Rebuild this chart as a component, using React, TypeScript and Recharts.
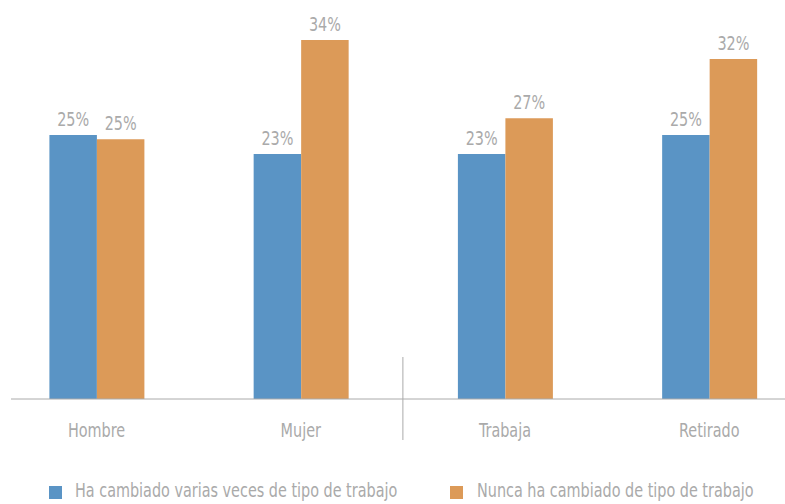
import React from 'react';
import { BarChart, Bar, XAxis, YAxis, LabelList } from 'recharts';

// Values (percent)
const categories = ['Hombre', 'Mujer', 'Trabaja', 'Retirado'];
const variasVeces = [25.0, 23.2, 23.2, 25.0];
const nunca = [24.6, 34.0, 26.6, 32.2];
const seriesNames = [
  'Ha cambiado varias veces de tipo de trabajo',
  'Nunca ha cambiado de tipo de trabajo',
];

const BLUE = '#5a94c5';
const ORANGE = '#dc9a58';
const GREY = '#aaaaaa';
const FONT = "'DejaVu Sans Condensed', 'DejaVu Sans', sans-serif";
const FONT_SIZE = 20;
const SQUEEZE = 0.8; // the reference uses a very narrow face

const data = categories.map((name, i) => ({
  name,
  varias: variasVeces[i],
  nunca: nunca[i],
}));

const PLOT_WIDTH = 817;
const HALF_BAND = PLOT_WIDTH / categories.length / 2;

const NarrowText = ({ x, y, children }: { x: number; y: number; children: React.ReactNode }) => (
  <g transform={`translate(${x},${y}) scale(${SQUEEZE},1)`}>
    <text x={0} y={0} textAnchor="middle" fill={GREY} fontSize={FONT_SIZE} fontFamily={FONT}>
      {children}
    </text>
  </g>
);

// Category label, plus the thin divider between the two groups
const CategoryTick = (props: any) => {
  const { x, y, payload, index } = props;
  return (
    <g>
      <NarrowText x={x} y={y + 38}>{payload.value}</NarrowText>
      {index === 2 && (
        <line x1={x - HALF_BAND} x2={x - HALF_BAND} y1={y - 42} y2={y + 41} stroke={GREY} strokeWidth={1} />
      )}
    </g>
  );
};

const ValueLabel = (props: any) => {
  const { x, y, width, value } = props;
  return <NarrowText x={Number(x) + Number(width) / 2} y={Number(y) - 9}>{`${Math.round(Number(value))}%`}</NarrowText>;
};

export default function App() {
  return (
    <div style={{ position: 'absolute', left: 0, top: 0, width: 785, height: 504, overflow: 'hidden', background: '#fff' }}>
      <div style={{ position: 'absolute', left: 11, top: 0, width: 774, height: 504, overflow: 'hidden' }}>
        <div style={{ position: 'absolute', left: -20, top: 0 }}>
          <BarChart
            width={830}
            height={504}
            data={data}
            margin={{ top: 19, right: 9.6, left: 3.4, bottom: 75 }}
            barGap={0}
            barSize={47.5}
          >
            <XAxis
              dataKey="name"
              axisLine={{ stroke: GREY, strokeWidth: 1 }}
              tickLine={false}
              tickSize={0}
              tickMargin={0}
              height={30}
              interval={0}
              tick={<CategoryTick />}
            />
            <YAxis hide domain={[0, 36]} />
            <Bar dataKey="varias" fill={BLUE} isAnimationActive={false}>
              <LabelList dataKey="varias" content={<ValueLabel />} />
            </Bar>
            <Bar dataKey="nunca" fill={ORANGE} isAnimationActive={false}>
              <LabelList dataKey="nunca" content={<ValueLabel />} />
            </Bar>
          </BarChart>
        </div>
      </div>
      {/* legend */}
      {[BLUE, ORANGE].map((c, i) => (
        <React.Fragment key={i}>
          <div style={{ position: 'absolute', left: i === 0 ? 49 : 450, top: 486, width: 13, height: 13, background: c }} />
          <div
            style={{
              position: 'absolute',
              left: i === 0 ? 75 : 477,
              top: 480,
              lineHeight: '20px',
              fontSize: FONT_SIZE,
              fontFamily: FONT,
              color: GREY,
              whiteSpace: 'nowrap',
              transform: `scaleX(${SQUEEZE})`,
              transformOrigin: 'left center',
            }}
          >
            {seriesNames[i]}
          </div>
        </React.Fragment>
      ))}
    </div>
  );
}
